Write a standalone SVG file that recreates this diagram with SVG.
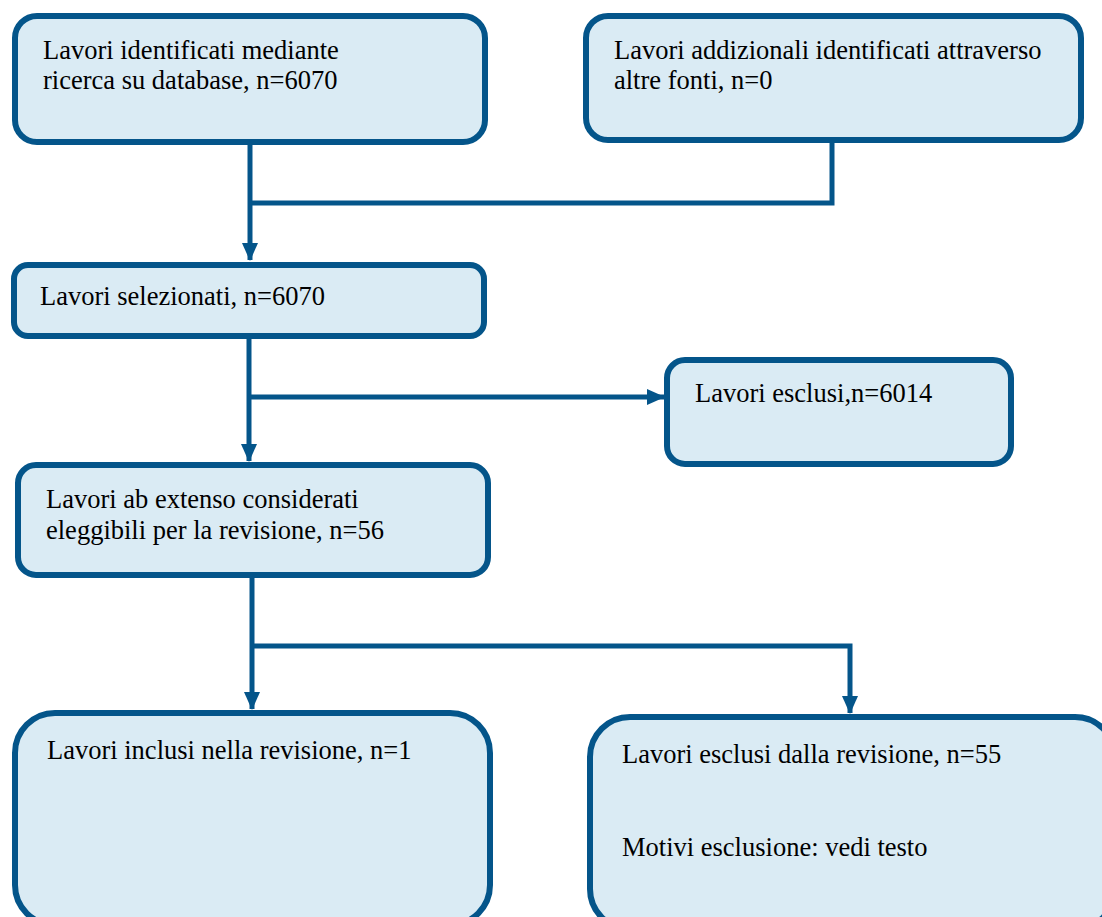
<svg xmlns="http://www.w3.org/2000/svg" width="1102" height="917" viewBox="0 0 1102 917">
<style>
.box{fill:#DAEBF4;stroke:#04558A;stroke-width:6}
text{font-family:'Liberation Serif','DejaVu Serif','Times New Roman',serif;font-size:26.5px;fill:#000}
.c{fill:none;stroke:#04558A;stroke-width:5}
</style>
<defs>
<marker id="ah" markerWidth="18" markerHeight="16" refX="17" refY="8" orient="auto" markerUnits="userSpaceOnUse" viewBox="0 0 18 16">
<path d="M0,0 L18,8 L0,16 Z" fill="#04558A"/>
</marker>
</defs>
<g id="connectors">
<path class="c" d="M250,145 V260" marker-end="url(#ah)"/>
<path class="c" d="M832,142 V203 H250"/>
<path class="c" d="M249,339 V461" marker-end="url(#ah)"/>
<path class="c" d="M249,397 H664" marker-end="url(#ah)"/>
<path class="c" d="M252,578 V709" marker-end="url(#ah)"/>
<path class="c" d="M252,646 H850 V713" marker-end="url(#ah)"/>
</g>
<g id="n1">
<rect class="box" x="15" y="16" width="470" height="126" rx="22"/>
<text x="43" y="59">Lavori identificati mediante</text>
<text x="43" y="89">ricerca su database, n=6070</text>
</g>
<g id="n2">
<rect class="box" x="586" y="16" width="495" height="124" rx="22"/>
<text x="614" y="59">Lavori addizionali identificati attraverso</text>
<text x="614" y="89">altre fonti, n=0</text>
</g>
<g id="n3">
<rect class="box" x="14" y="265" width="470" height="71" rx="14"/>
<text x="40" y="305">Lavori selezionati, n=6070</text>
</g>
<g id="n4">
<rect class="box" x="667" y="360" width="344" height="104" rx="18"/>
<text x="695" y="402">Lavori esclusi,n=6014</text>
</g>
<g id="n5">
<rect class="box" x="18" y="465" width="470" height="110" rx="18"/>
<text x="46" y="508">Lavori ab extenso considerati</text>
<text x="46" y="539">eleggibili per la revisione, n=56</text>
</g>
<g id="n6">
<rect class="box" x="15" y="713" width="475" height="212" rx="40"/>
<text x="47" y="759">Lavori inclusi nella revisione, n=1</text>
</g>
<g id="n7">
<rect class="box" x="590" y="717" width="525" height="212" rx="40"/>
<text x="622" y="763">Lavori esclusi dalla revisione, n=55</text>
<text x="622" y="856">Motivi esclusione: vedi testo</text>
</g>
</svg>
